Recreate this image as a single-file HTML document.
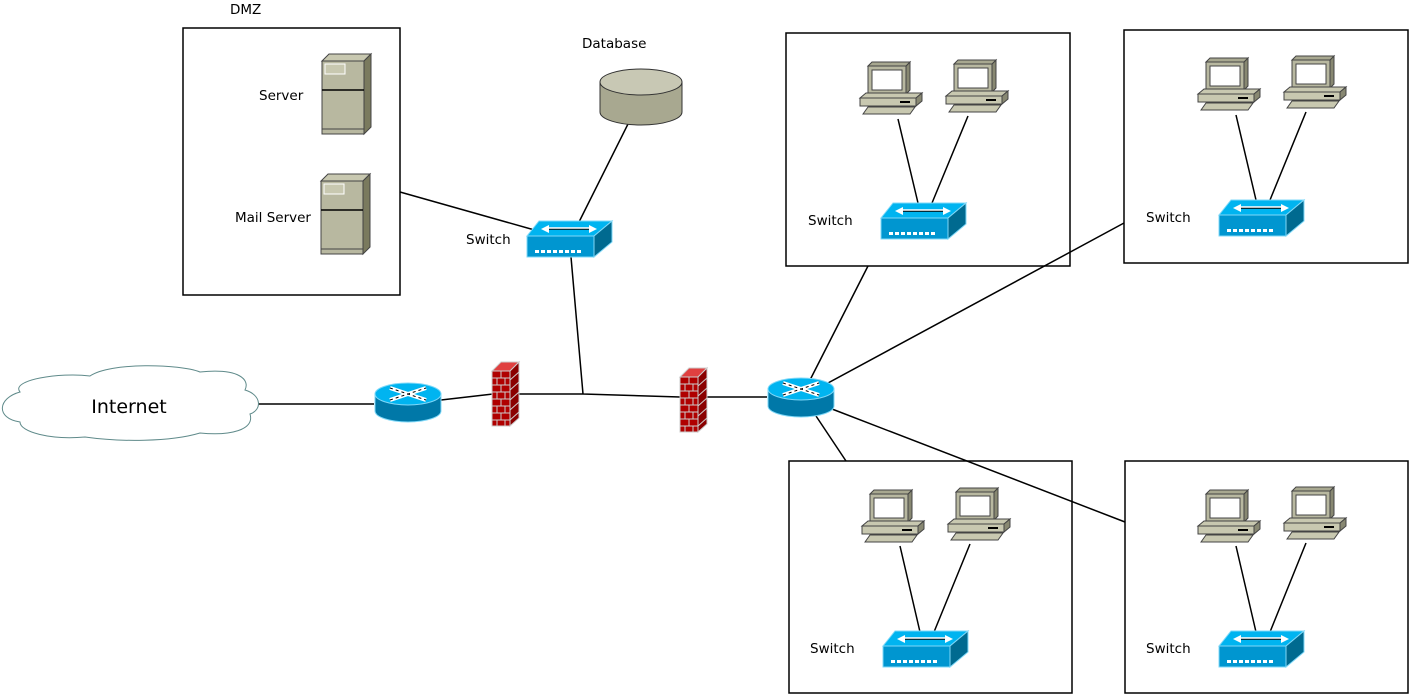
<!DOCTYPE html>
<html><head><meta charset="utf-8"><style>
html,body{margin:0;padding:0;background:#fff;}
svg{display:block;font-family:"DejaVu Sans","Liberation Sans",sans-serif;}
</style></head><body>
<svg width="1410" height="695" viewBox="0 0 1410 695" xmlns="http://www.w3.org/2000/svg">
<defs>
<g id="sw">
  <polygon points="12,0 85,0 67,15 0,15" fill="#00b4f0" stroke="#7fd8f8" stroke-width="1"/>
  <polygon points="0,15 67,15 67,36 0,36" fill="#0096d0" stroke="#7fd8f8" stroke-width="1"/>
  <polygon points="67,15 85,0 85,21 67,36" fill="#006a90" stroke="#7fd8f8" stroke-width="1"/>
  <path d="M16,8 L68,8" stroke="#000" stroke-width="1.5"/>
  <polygon points="14,8 22,4 22,12" fill="#fff"/>
  <polygon points="70,8 62,4 62,12" fill="#fff"/>
  <path d="M20,7 L64,7" stroke="#fff" stroke-width="1.5"/>
  <g fill="#fff"><rect x="8" y="29" width="4" height="3"/><rect x="14" y="29" width="4" height="3"/><rect x="20" y="29" width="4" height="3"/><rect x="26" y="29" width="4" height="3"/><rect x="32" y="29" width="4" height="3"/><rect x="38" y="29" width="4" height="3"/><rect x="44" y="29" width="4" height="3"/><rect x="50" y="29" width="4" height="3"/></g>
</g>
<g id="rt">
  <path d="M1,12 L1,29 A33,11 0 0 0 67,29 L67,12 Z" fill="#0078a8" stroke="#7fd8f8"/>
  <ellipse cx="34" cy="12" rx="33" ry="11" fill="#00b4f0" stroke="#7fd8f8"/>
  <path d="M16,6 L52,18 M16,18 L52,6" stroke="#fff" stroke-width="4"/>
  <path d="M16,6 L52,18 M16,18 L52,6" stroke="#000" stroke-width="1" stroke-dasharray="3 3"/>
</g>
<g id="fw">
  <polygon points="0,9 9,0 27,0 18,9" fill="#e04040" stroke="#ccc"/>
  <polygon points="18,9 27,0 27,56 18,64" fill="#8a0000" stroke="#ccc"/>
  <rect x="0" y="9" width="18" height="55" fill="#b00000" stroke="#ccc"/>
  <path d="M0,16 H18 M0,23 H18 M0,30 H18 M0,37 H18 M0,44 H18 M0,51 H18 M0,58 H18" stroke="#ccc" stroke-width="1"/>
  <path d="M9,9 V16 M5,16 V23 M13,16 V23 M9,23 V30 M5,30 V37 M13,30 V37 M9,37 V44 M5,44 V51 M13,44 V51 M9,51 V58 M5,58 V64 M13,58 V64" stroke="#ccc"/>
  <path d="M18,18 L27,10 M18,28 L27,20 M18,38 L27,30 M18,48 L27,40 M18,58 L27,50" stroke="#ccc"/>
</g>
<g id="pc">
  <polygon points="46,4 50,0 50,28 46,32" fill="#888872" stroke="#444"/>
  <polygon points="8,4 12,0 50,0 46,4" fill="#a8a890" stroke="#444"/>
  <rect x="8" y="4" width="38" height="28" fill="#b8b8a0" stroke="#444"/>
  <rect x="12" y="8" width="30" height="20" fill="#fff" stroke="#444"/>
  <polygon points="0,36 6,31 62,31 56,36" fill="#c8c8b0" stroke="#444"/>
  <polygon points="0,36 56,36 56,44 0,44" fill="#c8c8b0" stroke="#444"/>
  <polygon points="56,36 62,31 62,39 56,44" fill="#888872" stroke="#444"/>
  <rect x="40" y="39" width="10" height="2" fill="#000"/>
  <polygon points="3,52 8,45 55,45 50,52" fill="#c8c8b0" stroke="#444"/>
</g>
<g id="srv">
  <polygon points="0,7 7,0 49,0 42,7" fill="#c8c8b0" stroke="#444"/>
  <polygon points="42,7 49,0 49,73 42,80" fill="#7a7a5e" stroke="#444"/>
  <rect x="0" y="7" width="42" height="73" fill="#b8b8a0" stroke="#444"/>
  <rect x="3" y="10" width="20" height="10" fill="#c8c8b0" stroke="#fff"/>
  <line x1="0" y1="36" x2="42" y2="36" stroke="#000" stroke-width="1.5"/>
  <line x1="0" y1="75" x2="42" y2="75" stroke="#444"/>
</g>
</defs>

<g fill="none" stroke="#000" stroke-width="1.5">
  <rect x="183" y="28" width="217" height="267"/>
  <rect x="786" y="33" width="284" height="233"/>
  <rect x="1124" y="30" width="284" height="233"/>
  <rect x="789" y="461" width="283" height="232"/>
  <rect x="1125" y="461" width="283" height="232"/>
  <path d="M258,404 L374,404 M441,400 L493,394 M519,394 L583,394 L680,397 M583,394 L571,257 M707,397 L767,397
   M400,192 L538,231 M579,222 L628,124 M810,380 L868,266 M828,383 L1124,223 M816,416 L846,461 M832,409 L1125,522
   M898,119 L918,203 M968,116 L932,203
   M1236,115 L1256,200 M1306,112 L1270,200
   M900,546 L920,632 M970,544 L934,632
   M1236,546 L1256,632 M1306,543 L1270,632"/>
</g>

<path d="M20,392 C10,380 60,372 90,376 C110,362 180,364 200,372 C240,368 250,380 245,390 C262,395 262,410 250,414 C255,430 230,436 200,433 C170,442 120,442 85,437 C50,440 20,432 20,422 C-5,418 -2,398 20,392 Z" fill="#fff" stroke="#5f8a8a" stroke-width="1"/>
<text x="129" y="413" font-size="19" text-anchor="middle">Internet</text>

<use href="#srv" x="322" y="54"/>
<use href="#srv" x="321" y="174"/>

<path d="M600,82 L600,112 A41,13 0 0 0 682,112 L682,82 Z" fill="#a8a890" stroke="#333"/>
<ellipse cx="641" cy="82" rx="41" ry="13" fill="#c8c8b4" stroke="#333"/>

<use href="#sw" x="527" y="221"/>
<use href="#sw" x="881" y="203"/>
<use href="#sw" x="1219" y="200"/>
<use href="#sw" x="883" y="631"/>
<use href="#sw" x="1219" y="631"/>

<use href="#rt" x="374" y="382"/>
<use href="#rt" x="767" y="377"/>
<use href="#fw" x="492" y="362"/>
<use href="#fw" x="680" y="368"/>

<use href="#pc" x="860" y="62"/>
<use href="#pc" x="946" y="60"/>
<use href="#pc" x="1198" y="58"/>
<use href="#pc" x="1284" y="56"/>
<use href="#pc" x="862" y="490"/>
<use href="#pc" x="948" y="488"/>
<use href="#pc" x="1198" y="490"/>
<use href="#pc" x="1284" y="487"/>

<g font-size="13.5" fill="#000">
  <text x="230" y="14">DMZ</text>
  <text x="582" y="48">Database</text>
  <text x="259" y="100">Server</text>
  <text x="235" y="222">Mail Server</text>
  <text x="466" y="244">Switch</text>
  <text x="808" y="225">Switch</text>
  <text x="1146" y="222">Switch</text>
  <text x="810" y="653">Switch</text>
  <text x="1146" y="653">Switch</text>
</g>
</svg>
</body></html>
